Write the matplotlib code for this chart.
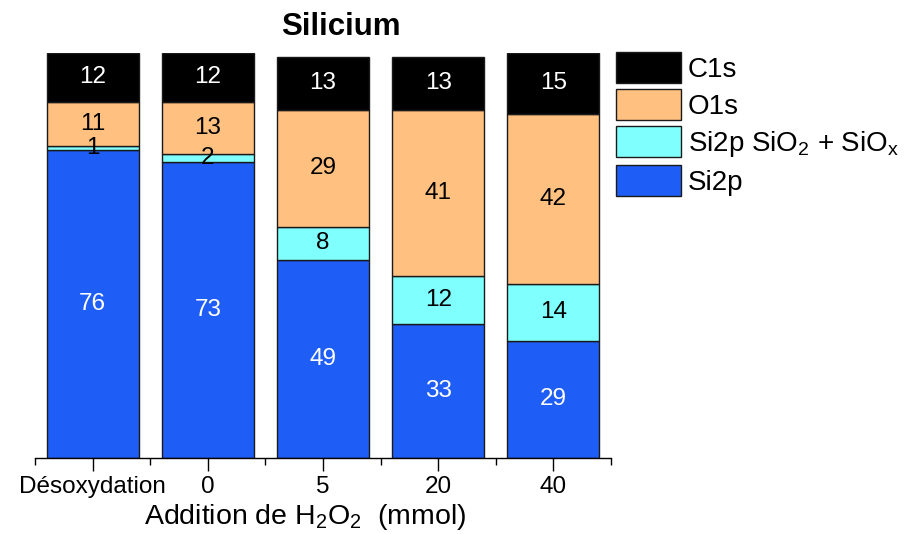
import matplotlib
matplotlib.use("Agg")
import matplotlib.pyplot as plt
import numpy as np

categories = ["Désoxydation", "0", "5", "20", "40"]
si2p = [76, 73, 49, 33, 29]
sio2_siox = [1, 2, 8, 12, 14]
o1s = [11, 13, 29, 41, 42]
c1s = [12, 12, 13, 13, 15]

series = [
    ("Si2p", si2p, "#1F5EF6", "white"),
    ("Si2p SiO$_2$ + SiO$_x$", sio2_siox, "#80FFFF", "black"),
    ("O1s", o1s, "#FFC080", "black"),
    ("C1s", c1s, "#000000", "white"),
]

plt.rcParams['font.family'] = ['Liberation Sans', 'DejaVu Sans']
plt.rcParams['mathtext.default'] = 'regular'

W, H = 909, 534
fig = plt.figure(figsize=(W / 100, H / 100), dpi=100)
ax = fig.add_axes([35 / W, 1 - 458 / H, (611 - 35) / W, (458 - 53) / H])

x = np.arange(len(categories))
bottom = np.zeros(len(categories))
handles = {}
for name, vals, col, tcol in series:
    vals = np.array(vals, dtype=float)
    bars = ax.bar(x, vals, width=0.8, bottom=bottom, color=col,
                  edgecolor="#1a1a1a", linewidth=1.0, label=name)
    handles[name] = bars
    for xi, b, v in zip(x, bottom, vals):
        ax.text(xi, b + v / 2, f"{int(v)}", ha="center", va="center",
                color=tcol, fontsize=17.5)
    bottom += vals

ax.set_xlim(-0.5, 4.5)
ax.set_ylim(0, 100)
for s in ["left", "right", "top"]:
    ax.spines[s].set_visible(False)
ax.spines["bottom"].set_linewidth(1.0)
ax.set_yticks([])
ax.set_xticks(x)
ax.set_xticklabels(categories, fontsize=17.5)
ax.set_xticks(np.arange(-0.5, 4.6, 1.0), minor=True)
ax.tick_params(axis="x", which="major", direction="out", length=9, width=1, pad=4)
ax.tick_params(axis="x", which="minor", direction="out", length=5, width=1)

ax.set_xlabel("Addition de H$_2$O$_2$  (mmol)", fontsize=20.5)
ax.xaxis.set_label_coords((305 - 35) / 576, (458 - 502) / 405)

fig.text(341 / W, 1 - 27 / H, "Silicium", fontsize=22.5, fontweight="bold",
         ha="center", va="center")

order = ["C1s", "O1s", "Si2p SiO$_2$ + SiO$_x$", "Si2p"]
leg = fig.legend([handles[n] for n in order], order,
                 loc="upper left", bbox_to_anchor=(616 / W, 1 - 52 / H),
                 frameon=False, fontsize=20, handlelength=2.34,
                 handleheight=1.34, handletextpad=0.25, labelspacing=0.22,
                 borderpad=0, borderaxespad=0)

fig.savefig("out.png", dpi=100)
